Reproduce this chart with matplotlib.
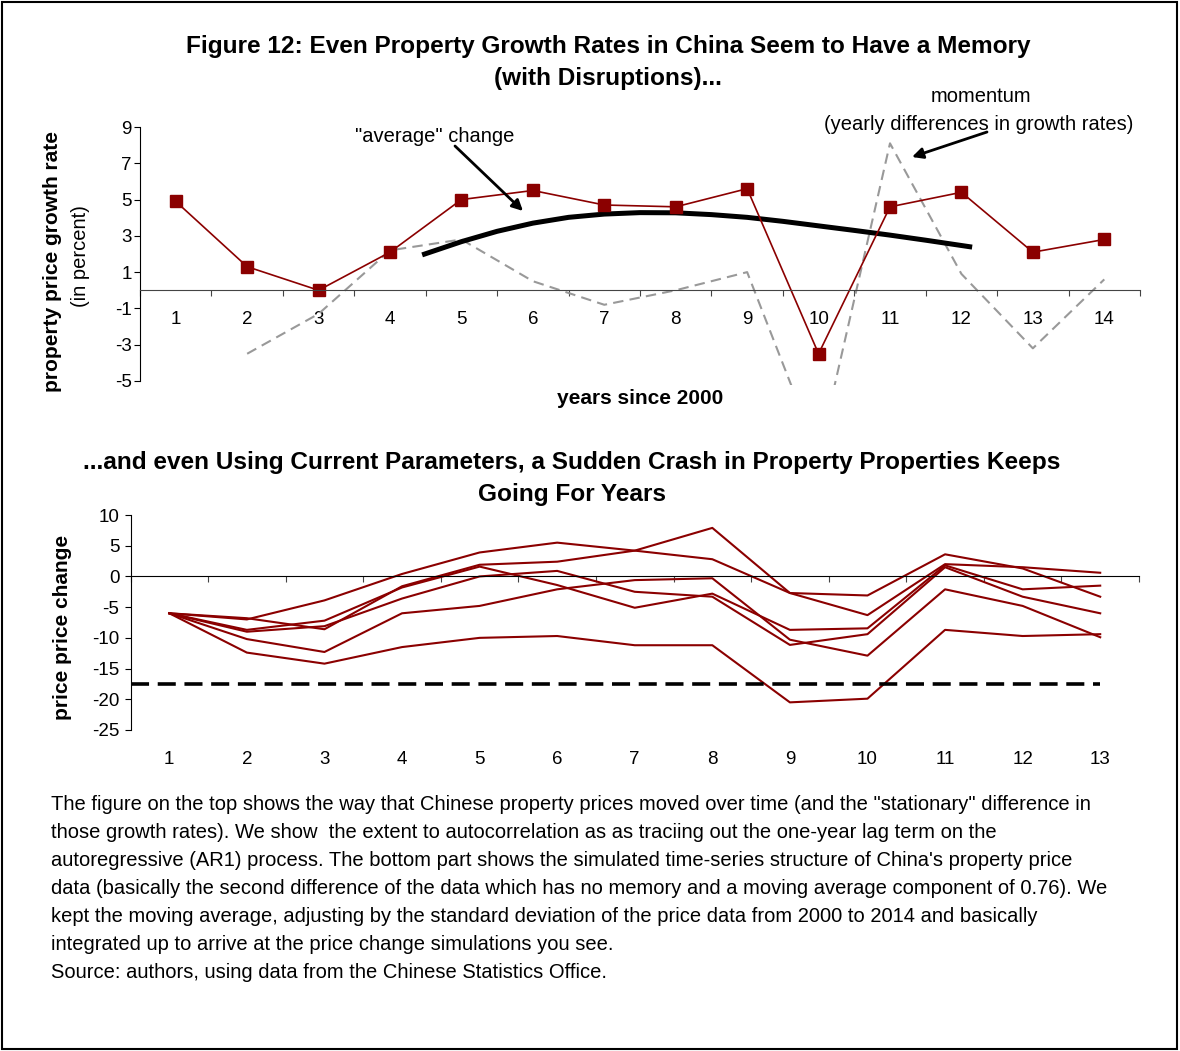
import matplotlib.pyplot as plt
from matplotlib.patches import Rectangle
from matplotlib.transforms import blended_transform_factory

plt.rcParams['font.family'] = ['Liberation Sans', 'DejaVu Sans']
plt.rcParams['axes.unicode_minus'] = False

# top chart: property price growth (percent)
years = list(range(1, 15))
growth = [4.9, 1.3, 0.0, 2.1, 5.0, 5.5, 4.7, 4.6, 5.6, -3.5, 4.6, 5.4, 2.1, 2.8]
# momentum = yearly differences in growth rates (from year 2)
mom_years = list(range(2, 15))
momentum = [-3.5, -1.3, 2.2, 2.8, 0.5, -0.8, 0.0, 1.0, -9.1, 8.1, 0.9, -3.2, 0.6]
# "average" change curve
avg_x = [4.45, 5, 5.5, 6, 6.5, 7, 7.5, 8, 8.5, 9, 9.5, 10, 10.5, 11, 11.5, 12.15]
avg_y = [1.95, 2.68, 3.25, 3.7, 4.02, 4.2, 4.28, 4.27, 4.17, 4.02, 3.8, 3.55, 3.3, 3.04, 2.76, 2.38]

# bottom chart: simulated price change paths
steps = list(range(1, 14))
sim_a = [-6, -7.0, -3.9, 0.4, 3.9, 5.5, 4.2, 2.8, -2.7, -6.3, 2.0, 1.5, 0.6]
sim_b = [-6, -6.8, -8.6, -1.6, 1.9, 2.4, 4.2, 7.9, -2.7, -3.1, 3.6, 1.3, -3.3]
sim_c = [-6, -12.4, -14.2, -11.5, -10.0, -9.7, -11.2, -11.2, -20.5, -19.9, -8.7, -9.7, -9.4]
sim_d = [-6, -10.2, -12.3, -6.0, -4.8, -2.1, -0.6, -0.3, -10.3, -12.9, -2.1, -4.8, -9.9]
sim_e = [-6, -8.7, -7.2, -1.8, 1.6, -1.4, -5.1, -2.8, -8.7, -8.45, 1.8, -2.1, -1.5]
sim_f = [-6, -9.0, -8.1, -3.6, 0.0, 0.9, -2.5, -3.3, -11.15, -9.4, 1.5, -3.3, -6.0]
crash_level = -17.5

caption = [
    'The figure on the top shows the way that Chinese property prices moved over time (and the "stationary" difference in',
    'those growth rates). We show  the extent to autocorrelation as as traciing out the one-year lag term on the',
    "autoregressive (AR1) process. The bottom part shows the simulated time-series structure of China's property price",
    'data (basically the second difference of the data which has no memory and a moving average component of 0.76). We',
    'kept the moving average, adjusting by the standard deviation of the price data from 2000 to 2014 and basically',
    'integrated up to arrive at the price change simulations you see.',
    'Source: authors, using data from the Chinese Statistics Office.',
]

W, H = 1180, 1051
red = '#8B0000'
fig = plt.figure(figsize=(W / 100, H / 100), dpi=100)


def fx(x):
    return x / W


def fy(y):
    return 1 - y / H


# outer frame
fig.add_artist(Rectangle((0.0015, 0.002), 0.996, 0.996, transform=fig.transFigure,
                         fill=False, lw=1.5, ec='black'))

# ---------------- top chart ----------------
ax1 = fig.add_axes([fx(140), fy(384.6), fx(1000), (384.6 - 127) / H])
ax1.plot(mom_years, momentum, color='#999999', lw=1.5, dashes=(5, 3))
ax1.plot(avg_x, avg_y, color='black', lw=3.6, solid_capstyle='butt')
ax1.plot(years, growth, color=red, lw=1.2, marker='s', markersize=8)
ax1.set_xlim(0.5, 14.5)
ax1.set_ylim(-5.2, 9)
for s in ['top', 'right']:
    ax1.spines[s].set_visible(False)
ax1.spines['bottom'].set_position(('data', 0))
ax1.spines['bottom'].set_color('#444444')
ax1.spines['left'].set_bounds(-5, 9)
ax1.set_yticks(range(-5, 10, 2))
ax1.set_xticks([y + 0.5 for y in [0] + years])
ax1.set_xticklabels([])
ax1.set_xticks(years, minor=True)
ax1.set_xticklabels([str(y) for y in years], minor=True)
ax1.tick_params(axis='x', which='major', direction='out', length=4, color='#444444')
ax1.tick_params(axis='x', which='minor', length=0, pad=15, labelsize=13.5)
ax1.tick_params(axis='y', direction='out', length=4, pad=2, labelsize=13.5)

fig.text(fx(608), fy(46), 'Figure 12: Even Property Growth Rates in China Seem to Have a Memory',
         ha='center', va='center', fontsize=17.6, fontweight='bold')
fig.text(fx(608), fy(78), '(with Disruptions)...', ha='center', va='center',
         fontsize=17.6, fontweight='bold')
fig.text(fx(53), fy(262), 'property price growth rate', rotation=90, ha='center', va='center',
         fontsize=15, fontweight='bold')
fig.text(fx(81), fy(256), '(in percent)', rotation=90, ha='center', va='center', fontsize=14.5)
fig.text(fx(640), fy(399), 'years since 2000', ha='center', va='center', fontsize=15,
         fontweight='bold')

fig.text(fx(435), fy(136), '"average" change', ha='center', va='center', fontsize=14.5)
fig.add_artist(plt.Annotation('', xy=(fx(523), fy(211)), xytext=(fx(455), fy(146)),
                              xycoords='figure fraction', textcoords='figure fraction',
                              arrowprops=dict(arrowstyle='-|>', color='black', lw=2,
                                              mutation_scale=16, shrinkA=0, shrinkB=0)))
fig.text(fx(981), fy(97), 'momentum', ha='center', va='center', fontsize=14.5)
fig.text(fx(979), fy(125), '(yearly differences in growth rates)', ha='center', va='center',
         fontsize=14.5)
fig.add_artist(plt.Annotation('', xy=(fx(912), fy(157)), xytext=(fx(987), fy(132)),
                              xycoords='figure fraction', textcoords='figure fraction',
                              arrowprops=dict(arrowstyle='-|>', color='black', lw=2,
                                              mutation_scale=16, shrinkA=0, shrinkB=0)))

# ---------------- bottom chart ----------------
ax2 = fig.add_axes([fx(130.5), fy(730), fx(1008.5), 215 / H])
for sim in [sim_a, sim_b, sim_c, sim_d, sim_e, sim_f]:
    ax2.plot(steps, sim, color=red, lw=1.5)
ax2.hlines(crash_level, 0.5, steps[-1], color='black', lw=2.6, linestyles=(0, (5, 2.4)))
ax2.set_xlim(0.5, 13.5)
ax2.set_ylim(-25, 10)
for s in ['top', 'right']:
    ax2.spines[s].set_visible(False)
ax2.spines['bottom'].set_position(('data', 0))
ax2.set_yticks(range(-25, 11, 5))
ax2.set_xticks([s + 0.5 for s in [0] + steps])
ax2.set_xticklabels([])
ax2.tick_params(axis='x', direction='out', length=4, color='#444444')
ax2.tick_params(axis='y', direction='out', length=4, pad=4, labelsize=13.5)
trans = blended_transform_factory(ax2.transData, ax2.transAxes)
for s in steps:
    ax2.text(s, -29 / 215, str(s), transform=trans, ha='center', va='center', fontsize=13.5)

fig.text(fx(572), fy(463),
         '...and even Using Current Parameters, a Sudden Crash in Property Properties Keeps',
         ha='center', va='center', fontsize=17.6, fontweight='bold')
fig.text(fx(572), fy(494), 'Going For Years', ha='center', va='center', fontsize=17.6,
         fontweight='bold')
fig.text(fx(62), fy(627), 'price price change', rotation=90, ha='center', va='center',
         fontsize=15, fontweight='bold')

# caption
for i, line in enumerate(caption):
    fig.text(fx(51), fy(805 + i * 27.9), line, ha='left', va='center', fontsize=14.5)

fig.savefig('out.png', dpi=100)
